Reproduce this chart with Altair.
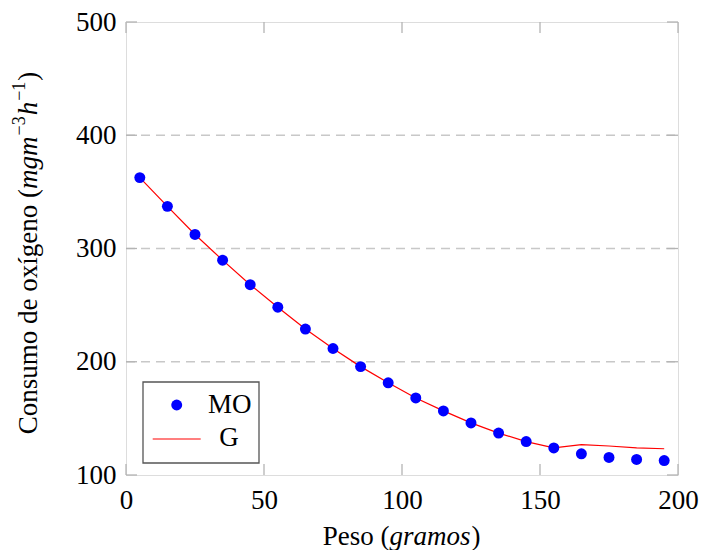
import altair as alt
import pandas as pd

# ---- data ----
peso = [5, 15, 25, 35, 45, 55, 65, 75, 85, 95, 105, 115, 125, 135, 145, 155, 165, 175, 185, 195]
mo = [362.6, 337.2, 312.4, 289.7, 268.0, 248.2, 228.9, 211.7, 195.7, 181.4,
      168.0, 156.6, 146.0, 137.0, 129.5, 123.9, 118.7, 115.5, 113.7, 112.8]
g = [362.6, 337.2, 312.4, 289.7, 268.0, 248.2, 228.9, 211.7, 195.7, 181.4,
     168.0, 156.6, 146.0, 137.0, 129.5, 123.9, 126.8, 125.6, 124.0, 123.2]
x_ticks = [0, 50, 100, 150, 200]
y_ticks = [100, 200, 300, 400, 500]
grid_vals = [200, 300, 400]

W, H = 552, 453
TOP = 14
FONT = "Liberation Serif"
FS = 27
SUP = 18

df = pd.DataFrame({"peso": peso, "MO": mo, "G": g})
xs = alt.Scale(domain=[0, 200], nice=False, zero=False)
ys = alt.Scale(domain=[100, 500], nice=False, zero=False)

x_axis = alt.Axis(values=x_ticks, domain=False, ticks=False, grid=False, title=None,
                  labelFont=FONT, labelFontSize=FS, labelColor="#000", labelPadding=12,
                  labelFlush=False)
y_axis = alt.Axis(values=y_ticks, domain=False, ticks=False, grid=False, title=None,
                  labelFont=FONT, labelFontSize=FS, labelColor="#000", labelPadding=10,
                  labelFlush=False)

one = pd.DataFrame({"a": [0]})

grid = alt.Chart(pd.DataFrame({"v": grid_vals})).mark_rule(
    color="#c8c8c8", strokeWidth=1.3, strokeDash=[9, 6]
).encode(y=alt.Y("v:Q", scale=ys, axis=y_axis), x=alt.value(0), x2=alt.value(W))

xt = pd.DataFrame({"v": x_ticks})
yt = pd.DataFrame({"v": y_ticks})
tick_style = dict(color="#b4b4b4", strokeWidth=1.3)
xtick_b = alt.Chart(xt).mark_rule(**tick_style).encode(
    x=alt.X("v:Q", scale=xs, axis=x_axis), y=alt.value(H), y2=alt.value(H - 11))
xtick_t = alt.Chart(xt).mark_rule(**tick_style).encode(
    x=alt.X("v:Q", scale=xs), y=alt.value(0), y2=alt.value(11))
ytick_l = alt.Chart(yt).mark_rule(**tick_style).encode(
    y=alt.Y("v:Q", scale=ys), x=alt.value(0), x2=alt.value(11))
ytick_r = alt.Chart(yt).mark_rule(**tick_style).encode(
    y=alt.Y("v:Q", scale=ys), x=alt.value(W), x2=alt.value(W - 11))

line = alt.Chart(df).mark_line(color="#ff0000", strokeWidth=1.2).encode(
    x=alt.X("peso:Q", scale=xs), y=alt.Y("G:Q", scale=ys))
pts = alt.Chart(df).mark_point(filled=True, color="#0000ff", size=120, opacity=1).encode(
    x=alt.X("peso:Q", scale=xs), y=alt.Y("MO:Q", scale=ys))

# ---- legend (plot-relative offsets; plot top moved down by 3px) ----
dy = 19 - (8 + TOP)
leg_box = alt.Chart(one).mark_rect(fill="white", stroke="#555555", strokeWidth=1.3).encode(
    x=alt.value(17), x2=alt.value(133), y=alt.value(363 + dy), y2=alt.value(444 + dy))
leg_pt = alt.Chart(one).mark_point(filled=True, color="#0000ff", size=120, opacity=1).encode(
    x=alt.value(50.7), y=alt.value(386 + dy))
leg_ln = alt.Chart(one).mark_rule(color="#ff0000", strokeWidth=1.2).encode(
    x=alt.value(26.7), x2=alt.value(74.7), y=alt.value(420 + dy))
leg_mo = alt.Chart(one).mark_text(text="MO", font=FONT, fontSize=FS, align="left",
                                  baseline="alphabetic", color="#000").encode(
    x=alt.value(82), y=alt.value(394 + dy))
leg_g = alt.Chart(one).mark_text(text="G", font=FONT, fontSize=FS, align="center",
                                 baseline="alphabetic", color="#000").encode(
    x=alt.value(103), y=alt.value(427 + dy))


def txt(s, x, y, size=FS, italic=False, angle=0, align="left"):
    kw = dict(text=s, font=FONT, fontSize=size, align=align, baseline="alphabetic",
              color="#000")
    if italic:
        kw["fontStyle"] = "italic"
    if angle:
        kw["angle"] = angle
    return alt.Chart(one).mark_text(**kw).encode(x=alt.value(x), y=alt.value(y))


# ---- x title: Peso (gramos) ----
XJ, XB = 263.5, 526 + dy
x_title = [txt("Peso (", XJ, XB, align="right"),
           txt("gramos", XJ, XB, italic=True),
           txt(")", XJ + 3.0 * FS + 1, XB)]

# ---- y title: Consumo de oxígeno (mgm^-3 h^-1) ----
J, BX, SX = 170 + dy, -89, -101
w_mgm = 1.944 * FS
w_sup = 1.064 * SUP
w_h = 0.5 * FS
y_title = [
    txt("Consumo de oxígeno (", BX, J, angle=270, align="right"),
    txt("mgm", BX, J, italic=True, angle=270),
    txt("−3", SX, J - w_mgm - 1, size=SUP, angle=270),
    txt("h", BX, J - w_mgm - w_sup - 2, italic=True, angle=270),
    txt("−1", SX, J - w_mgm - w_sup - w_h - 3, size=SUP, angle=270),
    txt(")", BX, J - w_mgm - 2 * w_sup - w_h - 4, angle=270),
]

chart = alt.layer(
    grid, xtick_b, xtick_t, ytick_l, ytick_r, line, pts,
    leg_box, leg_pt, leg_ln, leg_mo, leg_g, *x_title, *y_title
).properties(
    width=W, height=H,
    autosize=alt.AutoSizeParams(type="none"),
    padding={"left": 118, "top": TOP, "right": 30, "bottom": 75},
).configure_view(stroke="#555555", strokeWidth=1.5).configure(background="white")

chart.save("out.html", embed_options={"renderer": "svg", "actions": False})
